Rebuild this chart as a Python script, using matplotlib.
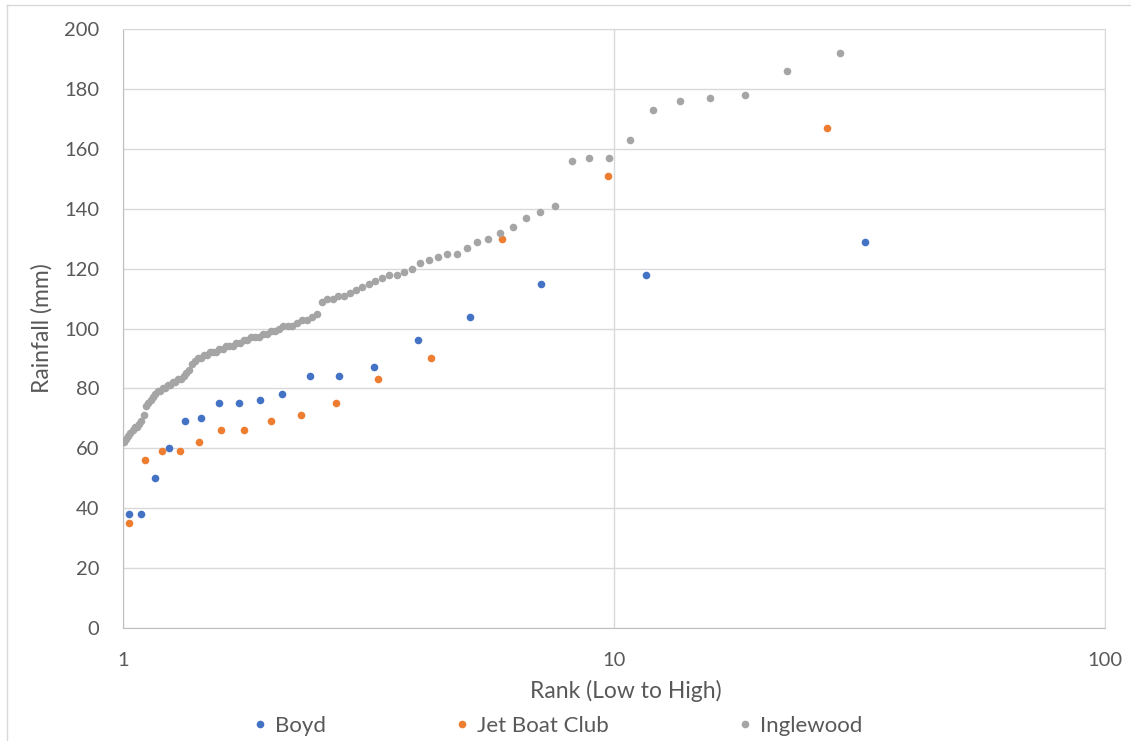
import numpy as np
import matplotlib.pyplot as plt
from matplotlib.lines import Line2D

plt.rcParams['font.family'] = ['Lato', 'DejaVu Sans']

# Boyd (18 values), rank position vs rainfall
boyd_rank = [1.03, 1.09, 1.16, 1.24, 1.34, 1.44, 1.565, 1.72, 1.90, 2.11,
             2.40, 2.76, 3.25, 3.98, 5.08, 7.10, 11.6, 32.5]
boyd_rain = [38, 38, 50, 60, 69, 70, 75, 75, 76, 78,
             84, 84, 87, 96, 104, 115, 118, 129]

# Jet Boat Club (15 values)
jet_rank = [1.03, 1.11, 1.20, 1.305, 1.43, 1.58, 1.76, 2.0, 2.30, 2.72,
            3.31, 4.24, 5.91, 9.72, 27.1]
jet_rain = [35, 56, 59, 59, 62, 66, 66, 69, 71, 75,
            83, 90, 130, 151, 167]

# Inglewood (100 values)
ing_rank = [1.005, 1.015, 1.025, 1.035, 1.046, 1.057, 1.067, 1.079, 1.090, 1.102,
            1.114, 1.126, 1.138, 1.151, 1.164, 1.177, 1.191, 1.205, 1.219, 1.234,
            1.248, 1.264, 1.279, 1.296, 1.312, 1.329, 1.346, 1.364, 1.382, 1.401,
            1.420, 1.440, 1.461, 1.482, 1.503, 1.526, 1.548, 1.572, 1.596, 1.622,
            1.647, 1.674, 1.702, 1.730, 1.760, 1.791, 1.822, 1.855, 1.889, 1.924,
            1.961, 1.999, 2.038, 2.079, 2.122, 2.167, 2.213, 2.262, 2.313, 2.366,
            2.421, 2.480, 2.541, 2.605, 2.672, 2.743, 2.818, 2.898, 2.982, 3.070,
            3.165, 3.265, 3.372, 3.486, 3.608, 3.738, 3.879, 4.031, 4.195, 4.373,
            4.566, 4.778, 5.010, 5.266, 5.549, 5.865, 6.219, 6.618, 7.072, 7.593,
            8.197, 8.905, 9.747, 10.76, 12.02, 13.61, 15.67, 18.48, 22.52, 28.82]
ing_rain = [62, 63, 64, 65, 66, 67, 67, 68, 69, 71,
            74, 75, 76, 77, 78, 79, 79, 80, 80, 81,
            81, 82, 82, 83, 83, 84, 85, 86, 88, 89,
            90, 90, 91, 91, 92, 92, 92, 93, 93, 94,
            94, 94, 95, 95, 96, 96, 97, 97, 97, 98,
            98, 99, 99, 100, 101, 101, 101, 102, 103, 103,
            104, 105, 109, 110, 110, 111, 111, 112, 113, 114,
            115, 116, 117, 118, 118, 119, 120, 122, 123, 124,
            125, 125, 127, 129, 130, 132, 134, 137, 139, 141,
            156, 157, 157, 163, 173, 176, 177, 178, 186, 192]

series = ['Boyd', 'Jet Boat Club', 'Inglewood']
colors = ['#4472C4', '#ED7D31', '#A5A5A5']
y_ticks = np.arange(0, 201, 20)

W, H = 1131, 741
fig = plt.figure(figsize=(W / 100, H / 100), dpi=100)
ax = fig.add_axes([123 / W, 1 - 628 / H, (1105 - 123) / W, (628 - 29) / H])

ax.scatter(boyd_rank, boyd_rain, s=30, color=colors[0], zorder=3, linewidths=0)
ax.scatter(jet_rank, jet_rain, s=30, color=colors[1], zorder=3, linewidths=0)
ax.scatter(ing_rank, ing_rain, s=30, color=colors[2], zorder=3, linewidths=0)

ax.set_xscale('log')
ax.set_xlim(1, 100)
ax.set_ylim(0, 200)
ax.set_xticks([1, 10, 100])
ax.set_xticklabels(['1', '10', '100'])
ax.minorticks_off()
ax.set_yticks(y_ticks)
ax.grid(True, color='#D9D9D9', linewidth=1)
ax.set_axisbelow(True)
for s in ax.spines.values():
    s.set_color('#D9D9D9')
ax.spines['left'].set_color('#BFBFBF')
ax.spines['bottom'].set_color('#BFBFBF')
ax.tick_params(length=0, labelsize=14.5, labelcolor='#595959')
ax.tick_params(axis='y', pad=17)
ax.tick_params(axis='x', pad=17)

fig.text(626 / W, 1 - 691 / H, 'Rank (Low to High)', ha='center', va='center',
         fontsize=16.5, color='#595959')
fig.text(42 / W, 1 - 328 / H, 'Rainfall (mm)', ha='center', va='center',
         rotation=90, fontsize=16.5, color='#595959')

handles = [Line2D([], [], marker='o', linestyle='', markersize=5.5,
                  markerfacecolor=c, markeredgewidth=0) for c in colors]
fig.legend(handles, series, loc='center', bbox_to_anchor=(556 / W, 1 - 726 / H),
           ncol=3, frameon=False, fontsize=16, labelcolor='#595959',
           handletextpad=0.25, columnspacing=5.65, handlelength=0.9)

# chart area border (top and left edges visible)
fig.add_artist(Line2D([7 / W, 1.0], [1 - 5 / H, 1 - 5 / H], transform=fig.transFigure,
                      color='#D9D9D9', linewidth=1))
fig.add_artist(Line2D([7 / W, 7 / W], [0, 1 - 5 / H], transform=fig.transFigure,
                      color='#D9D9D9', linewidth=1))

plt.savefig('out.png', dpi=100)
